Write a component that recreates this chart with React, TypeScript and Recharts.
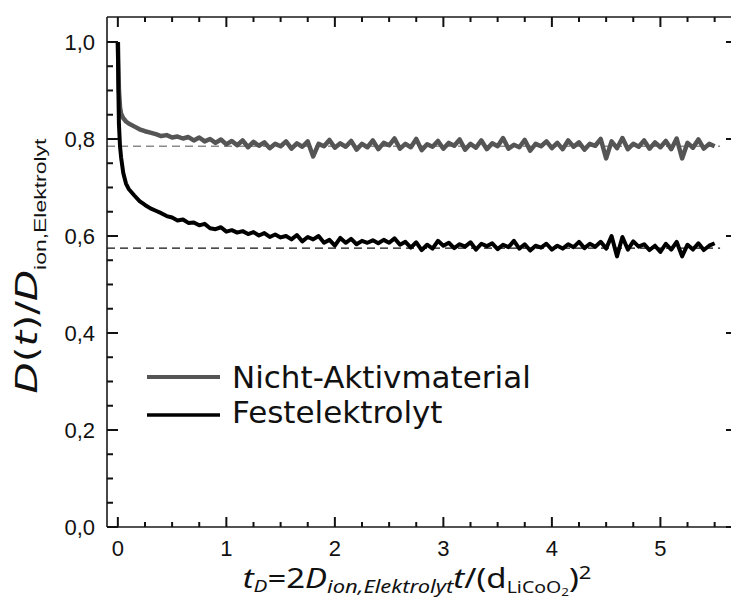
import { LineChart, Line, XAxis, YAxis, ReferenceLine, Legend } from "recharts";

const tD = [
  0, 0.005, 0.01, 0.02, 0.03, 0.05, 0.075, 0.1, 0.15, 0.2,
  0.25, 0.3, 0.35, 0.4, 0.45, 0.5, 0.55, 0.6, 0.65, 0.7,
  0.75, 0.8, 0.85, 0.9, 0.95, 1.0, 1.05, 1.1, 1.15, 1.2,
  1.25, 1.3, 1.35, 1.4, 1.45, 1.5, 1.55, 1.6, 1.65, 1.7,
  1.75, 1.8, 1.85, 1.9, 1.95, 2.0, 2.05, 2.1, 2.15, 2.2,
  2.25, 2.3, 2.35, 2.4, 2.45, 2.5, 2.55, 2.6, 2.65, 2.7,
  2.75, 2.8, 2.85, 2.9, 2.95, 3.0, 3.05, 3.1, 3.15, 3.2,
  3.25, 3.3, 3.35, 3.4, 3.45, 3.5, 3.55, 3.6, 3.65, 3.7,
  3.75, 3.8, 3.85, 3.9, 3.95, 4.0, 4.05, 4.1, 4.15, 4.2,
  4.25, 4.3, 4.35, 4.4, 4.45, 4.5, 4.55, 4.6, 4.65, 4.7,
  4.75, 4.8, 4.85, 4.9, 4.95, 5.0, 5.05, 5.1, 5.15, 5.2,
  5.25, 5.3, 5.35, 5.4, 5.45, 5.5,
];

const nichtAktiv = [
  1.0, 0.95, 0.9, 0.865, 0.852, 0.843, 0.836, 0.832, 0.826, 0.82,
  0.816, 0.813, 0.81, 0.806, 0.808, 0.803, 0.805, 0.801, 0.804, 0.797,
  0.803, 0.795, 0.8, 0.792, 0.799, 0.789, 0.796, 0.787, 0.797, 0.783,
  0.794, 0.786, 0.793, 0.781, 0.79, 0.785, 0.795, 0.78, 0.791, 0.784,
  0.795, 0.764, 0.79, 0.785, 0.798, 0.782, 0.791, 0.784, 0.796, 0.778,
  0.79, 0.783, 0.797, 0.779, 0.792, 0.787, 0.801, 0.78, 0.79, 0.783,
  0.8, 0.777, 0.789, 0.784, 0.796, 0.78, 0.792, 0.786, 0.799, 0.778,
  0.79, 0.782, 0.797, 0.779, 0.791, 0.785, 0.802, 0.78, 0.788, 0.783,
  0.798, 0.776, 0.79, 0.785, 0.795, 0.781, 0.792, 0.779, 0.797, 0.784,
  0.793, 0.778, 0.79, 0.786, 0.8, 0.76, 0.795, 0.781, 0.802, 0.779,
  0.79, 0.784, 0.797, 0.78, 0.793, 0.783, 0.796, 0.779, 0.801, 0.76,
  0.792, 0.782, 0.799, 0.78, 0.79, 0.785,
];

const festelektrolyt = [
  1.0, 0.9, 0.83, 0.785, 0.762, 0.73, 0.708, 0.697, 0.684, 0.672,
  0.664, 0.657, 0.652, 0.647, 0.641, 0.638, 0.632, 0.634, 0.627, 0.628,
  0.622, 0.625, 0.616, 0.614, 0.618, 0.609, 0.612, 0.607, 0.61, 0.604,
  0.608, 0.601, 0.606, 0.598, 0.603, 0.597, 0.6, 0.593, 0.602, 0.589,
  0.598, 0.593, 0.6, 0.586, 0.592, 0.58, 0.596, 0.586, 0.594, 0.583,
  0.59, 0.586, 0.591, 0.585, 0.592, 0.586, 0.595, 0.582, 0.588, 0.576,
  0.587, 0.571, 0.582, 0.574, 0.59, 0.58, 0.586, 0.575, 0.583, 0.578,
  0.587, 0.572, 0.584, 0.579, 0.585, 0.573, 0.582, 0.577, 0.59, 0.574,
  0.583, 0.57, 0.58, 0.576, 0.584, 0.572, 0.58, 0.574, 0.583, 0.577,
  0.588, 0.575, 0.584, 0.578, 0.588, 0.574, 0.6, 0.558, 0.598, 0.572,
  0.589, 0.578, 0.583, 0.571, 0.58, 0.567, 0.584, 0.572, 0.588, 0.558,
  0.582, 0.572, 0.585, 0.571, 0.58, 0.585,
];

const plateauNicht = 0.785;
const plateauFest = 0.575;
const plateauEnd = 5.55;

const xMinor = [
  0, 0.25, 0.5, 0.75, 1, 1.25, 1.5, 1.75, 2, 2.25, 2.5, 2.75,
  3, 3.25, 3.5, 3.75, 4, 4.25, 4.5, 4.75, 5, 5.25, 5.5,
];
const yMinor = [
  0, 0.05, 0.1, 0.15, 0.2, 0.25, 0.3, 0.35, 0.4, 0.45, 0.5,
  0.55, 0.6, 0.65, 0.7, 0.75, 0.8, 0.85, 0.9, 0.95, 1.0,
];

const xDomain: [number, number] = [-0.1, 5.706];
const yDomain: [number, number] = [0, 1.0515];

const rows = tD.map((t, i) => ({ t, nicht: nichtAktiv[i], fest: festelektrolyt[i] }));

const AXIS = "#1a1a1a";
const TICK = "#111";
const axisStroke = { stroke: AXIS, strokeWidth: 1.6 };
const fmtY = (v: number) => v.toFixed(1).replace(".", ",");
// labelled ticks every 1 on x and every 0.2 on y, the rest are minor
const isMajorX = (v: number) => Math.abs(v - Math.round(v)) < 1e-6;
const isMajorY = (v: number) => Math.abs(v * 5 - Math.round(v * 5)) < 1e-6;

const LeftTick = ({ x, y, payload }: any) => {
  const major = isMajorY(payload.value);
  return (
    <g>
      <line x1={x} y1={y} x2={x + (major ? 11 : 6)} y2={y} stroke={TICK} strokeWidth={2} />
      {major && (
        <text x={x - 12} y={y} dy="0.36em" textAnchor="end" fontFamily="Liberation Sans, Arial" fontSize={22} fill="#111">
          {fmtY(payload.value)}
        </text>
      )}
    </g>
  );
};

const RightTick = ({ x, y, payload }: any) => {
  const major = isMajorY(payload.value);
  return <line x1={x} y1={y} x2={x - (major ? 11 : 6)} y2={y} stroke={TICK} strokeWidth={2} />;
};

const BottomTick = ({ x, y, payload }: any) => {
  const major = isMajorX(payload.value);
  return (
    <g>
      <line x1={x} y1={y} x2={x} y2={y - (major ? 10 : 5)} stroke={TICK} strokeWidth={2} />
      {major && (
        <text x={x} y={y + 29} textAnchor="middle" fontFamily="Liberation Sans, Arial" fontSize={22} fill="#111">
          {payload.value}
        </text>
      )}
    </g>
  );
};

const TopTick = ({ x, y, payload }: any) => {
  const major = isMajorX(payload.value);
  return <line x1={x} y1={y} x2={x} y2={y + (major ? 10 : 5)} stroke={TICK} strokeWidth={2} />;
};

const XTitle = ({ viewBox }: any) => {
  const vb = viewBox || { x: 107, y: 527, width: 630, height: 80 };
  const by = vb.y + 61;
  return (
    <g transform={`translate(417, ${by}) scale(1.22, 1)`}>
      <text x={0} y={0} textAnchor="middle" fontFamily="Noto Sans, Open Sans" fontSize={27} fill="#111">
        <tspan fontStyle="italic">t</tspan>
        <tspan fontStyle="italic" fontSize={17} dy={4}>D</tspan>
        <tspan dy={-4}>=2</tspan>
        <tspan fontStyle="italic">D</tspan>
        <tspan fontStyle="italic" fontSize={18} dy={5}>ion,Elektrolyt</tspan>
        <tspan fontStyle="italic" dy={-5}>t</tspan>
        <tspan>/(d</tspan>
        <tspan fontSize={16} dy={5}>LiCoO</tspan>
        <tspan fontSize={11} dy={3}>2</tspan>
        <tspan dy={-8}>)</tspan>
        <tspan fontSize={18} dy={-9}>2</tspan>
      </text>
    </g>
  );
};

const YTitle = () => (
  <g transform="translate(37, 266) rotate(-90) scale(1.35, 1)">
    <text x={0} y={0} textAnchor="middle" fontFamily="DejaVu Sans" fontSize={30} fill="#111">
      <tspan fontStyle="italic">D</tspan>
      <tspan>(</tspan>
      <tspan fontStyle="italic">t</tspan>
      <tspan>)/</tspan>
      <tspan fontStyle="italic">D</tspan>
      <tspan fontFamily="Liberation Sans, Arial" fontSize={17} dy={9}>ion,Elektrolyt</tspan>
    </text>
  </g>
);

const legendOrder = ["nicht", "fest"];

const LegendBox = ({ payload }: any) => {
  const items = [...(payload || [])].sort(
    (a: any, b: any) => legendOrder.indexOf(a.dataKey) - legendOrder.indexOf(b.dataKey)
  );
  return (
    <svg width={430} height={80} style={{ display: "block" }}>
      {items.map((entry: any, i: number) => {
        const ly = i === 0 ? 22 : 60;
        const ty = i === 0 ? 33 : 68;
        return (
          <g key={entry.value}>
            <line x1={0} y1={ly} x2={73} y2={ly} stroke={entry.color} strokeWidth={i === 0 ? 4 : 3.5} />
            <text x={85} y={ty} fontFamily="DejaVu Sans, Verdana" fontSize={31} fill="#111">
              {entry.value}
            </text>
          </g>
        );
      })}
    </svg>
  );
};

export default function App() {
  return (
    <div style={{ position: "absolute", left: 0, top: 0, width: 731, height: 607, overflow: "hidden", background: "#fff" }}>
      <LineChart width={740} height={607} data={rows} margin={{ top: 17, right: 3, bottom: 0, left: 0 }}>
        <XAxis
          xAxisId="bottom"
          dataKey="t"
          type="number"
          domain={xDomain}
          ticks={xMinor}
          interval={0}
          tickSize={0}
          tickMargin={0}
          tickLine={false}
          axisLine={axisStroke}
          height={80}
          tick={(p: any) => <BottomTick {...p} />}
          label={{ content: (p: any) => <XTitle viewBox={p.viewBox} /> }}
          allowDataOverflow
        />
        <XAxis
          xAxisId="top"
          orientation="top"
          dataKey="t"
          type="number"
          mirror
          domain={xDomain}
          ticks={xMinor}
          interval={0}
          tickSize={0}
          tickMargin={0}
          tickLine={false}
          axisLine={axisStroke}
          tick={(p: any) => <TopTick {...p} />}
          height={1}
          allowDataOverflow
        />
        <YAxis
          yAxisId="left"
          type="number"
          domain={yDomain}
          ticks={yMinor}
          interval={0}
          tickSize={0}
          tickMargin={0}
          tickLine={false}
          axisLine={axisStroke}
          width={107}
          tick={(p: any) => <LeftTick {...p} />}
          label={{ content: () => <YTitle /> }}
          allowDataOverflow
        />
        <YAxis
          yAxisId="right"
          orientation="right"
          type="number"
          mirror
          domain={yDomain}
          ticks={yMinor}
          interval={0}
          tickSize={0}
          tickMargin={0}
          tickLine={false}
          axisLine={axisStroke}
          tick={(p: any) => <RightTick {...p} />}
          width={1}
          allowDataOverflow
        />
        <ReferenceLine
          xAxisId="bottom"
          yAxisId="left"
          segment={[{ x: -0.1, y: plateauNicht }, { x: plateauEnd, y: plateauNicht }]}
          stroke="#8a8a8a"
          strokeWidth={1.3}
          strokeDasharray="8 5"
        />
        <ReferenceLine
          xAxisId="bottom"
          yAxisId="left"
          segment={[{ x: -0.1, y: plateauFest }, { x: plateauEnd, y: plateauFest }]}
          stroke="#111"
          strokeWidth={1.4}
          strokeDasharray="8 5"
        />
        <Line
          xAxisId="bottom"
          yAxisId="left"
          type="linear"
          dataKey="nicht"
          name="Nicht-Aktivmaterial"
          stroke="#555555"
          strokeWidth={4.5}
          strokeLinejoin="round"
          dot={false}
          isAnimationActive={false}
        />
        <Line
          xAxisId="bottom"
          yAxisId="left"
          type="linear"
          dataKey="fest"
          name="Festelektrolyt"
          stroke="#000000"
          strokeWidth={4}
          strokeLinejoin="round"
          dot={false}
          isAnimationActive={false}
        />
        <Legend
          layout="horizontal"
          align="center"
          verticalAlign="middle"
          wrapperStyle={{ left: 147, top: 355, width: 430, height: 80 }}
          content={(p: any) => <LegendBox payload={p.payload} />}
        />
      </LineChart>
    </div>
  );
}
